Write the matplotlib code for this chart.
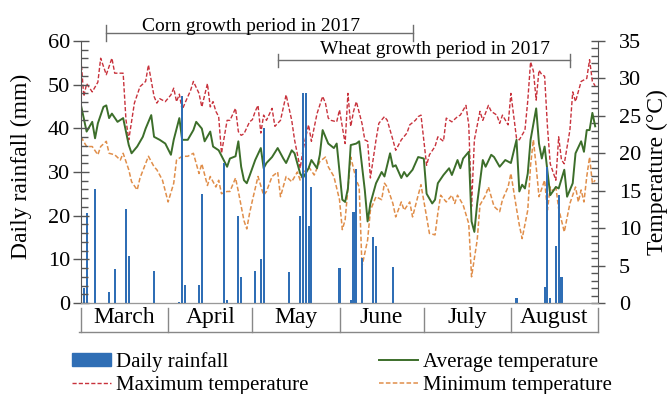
import matplotlib
matplotlib.use("Agg")
import matplotlib.pyplot as plt
from matplotlib.ticker import MultipleLocator
from matplotlib.patches import Patch
from matplotlib.lines import Line2D

# ---------- Data (day 0 = 1 March 2017) ----------
months = ["March", "April", "May", "June", "July", "August"]
month_starts = [0, 31, 61, 92, 122, 153, 184]

rain_days = [1, 2, 5, 10, 12, 16, 17, 26, 35, 36, 37, 42, 43, 51, 52, 56, 57,
             62, 64, 65, 74, 78, 79, 80, 81, 82, 92, 96, 97, 98, 100, 104, 105,
             111, 155, 165, 166, 167, 169, 170, 171]
rain_mm = [3.4, 20.5, 26.2, 2.5, 7.8, 21.5, 10.8, 7.3, 0.3, 47.5, 4.2, 4.1, 25.0,
           32.0, 0.8, 20.0, 6.0, 7.3, 10.1, 40.0, 7.0, 19.9, 48.2, 48.2, 17.6,
           26.6, 8.0, 0.6, 20.9, 30.6, 10.4, 15.2, 13.0, 8.2, 1.1, 3.7, 31.2,
           1.1, 13.1, 24.7, 6.0]

tmax_days = [0, 1, 2, 4, 6, 7, 9, 11, 12, 15, 16, 17, 19, 21, 23, 24, 26, 27, 28,
             30, 32, 33, 34, 35, 36, 37, 39, 40, 42, 43, 45, 46, 47, 48, 49, 50,
             52, 53, 55, 56, 57, 58, 60, 61, 62, 63, 64, 65, 66, 68, 69, 71, 73,
             75, 76, 78, 79, 80, 81, 82, 84, 86, 87, 88, 89, 91, 92, 94, 95, 96,
             97, 98, 100, 101, 102, 103, 105, 106, 108, 109, 111, 112, 114, 116,
             117, 119, 120, 121, 123, 124, 126, 127, 129, 130, 132, 134, 135,
             137, 138, 139, 140, 142, 143, 145, 146, 148, 149, 150, 152, 153,
             155, 156, 158, 159, 160, 161, 162, 163, 164, 165, 166, 167, 169,
             170, 171, 172, 174, 175, 176, 178, 180, 181, 182, 183]
tmax = [32.5, 27.6, 29.3, 28.2, 29.5, 32.7, 30.5, 32.7, 30.7, 30.7, 24.5, 21.8,
        26.7, 28.9, 29.6, 31.8, 27.6, 26.7, 27.3, 26.9, 27.8, 28.7, 26.9, 27.9,
        25.8, 26.7, 28.4, 29.6, 28.0, 26.2, 29.3, 26.2, 26.9, 25.6, 24.9, 20.0,
        24.4, 24.4, 26.0, 22.9, 22.4, 22.6, 24.2, 24.5, 25.6, 26.4, 22.7, 25.1,
        24.4, 26.0, 23.6, 24.4, 27.8, 24.4, 21.8, 18.0, 20.4, 22.2, 23.8, 21.6,
        25.3, 27.6, 26.7, 24.7, 24.4, 24.2, 25.8, 21.3, 28.0, 23.6, 25.6, 26.9,
        24.0, 21.8, 21.6, 16.7, 21.8, 24.0, 24.9, 24.4, 21.8, 20.4, 21.8, 22.7,
        23.8, 24.4, 24.9, 25.1, 18.4, 19.8, 20.9, 22.2, 21.6, 24.7, 24.2, 24.9,
        25.1, 26.4, 23.8, 12.9, 21.8, 25.6, 24.4, 26.4, 25.6, 25.1, 24.0, 25.1,
        23.8, 28.0, 22.0, 21.8, 23.1, 27.0, 32.2, 31.0, 27.1, 31.1, 30.5, 30.3,
        23.6, 18.6, 16.4, 22.2, 19.1, 18.6, 23.1, 28.2, 26.9, 29.6, 30.0, 32.5,
        29.6, 29.0]

tavg_days = [0, 2, 4, 5, 6, 8, 9, 10, 11, 13, 15, 17, 18, 20, 22, 23, 25, 26, 28,
             30, 32, 33, 35, 36, 38, 40, 41, 43, 44, 46, 47, 49, 52, 53, 55, 56,
             57, 58, 59, 60, 62, 64, 65, 66, 68, 70, 72, 73, 75, 76, 78, 79, 81,
             82, 84, 85, 86, 88, 90, 91, 93, 94, 95, 96, 98, 99, 101, 102, 103,
             105, 107, 108, 110, 111, 112, 114, 115, 116, 118, 120, 122, 123,
             125, 126, 127, 129, 131, 132, 134, 135, 136, 138, 139, 140, 141,
             143, 144, 146, 147, 149, 151, 153, 155, 156, 157, 158, 159, 160,
             162, 163, 164, 165, 167, 169, 170, 172, 173, 175, 176, 178, 179,
             180, 181, 182, 183]
tavg = [26.4, 22.9, 24.2, 22.0, 24.0, 26.2, 26.4, 24.7, 25.3, 24.2, 24.7, 21.1,
        20.0, 20.9, 22.2, 23.3, 25.1, 22.2, 21.8, 21.3, 19.8, 21.8, 24.7, 21.8,
        21.8, 23.1, 24.2, 23.3, 21.6, 22.9, 20.9, 20.4, 18.2, 19.3, 19.6, 21.6,
        18.2, 16.4, 16.0, 17.0, 19.1, 20.7, 18.0, 18.7, 19.5, 20.7, 19.3, 18.7,
        20.4, 20.0, 17.3, 16.7, 18.0, 19.1, 18.0, 19.8, 23.1, 21.3, 20.7, 21.3,
        13.8, 13.5, 15.3, 21.1, 21.3, 21.6, 15.1, 10.9, 13.3, 16.0, 17.5, 16.9,
        20.0, 18.2, 18.4, 16.7, 17.5, 16.9, 17.8, 19.5, 19.3, 14.6, 13.3, 13.8,
        16.0, 17.1, 18.0, 17.1, 19.1, 18.0, 19.3, 20.2, 10.9, 9.5, 13.3, 19.1,
        18.2, 19.8, 19.5, 18.2, 19.1, 18.7, 21.8, 14.9, 15.8, 15.3, 17.3, 21.8,
        26.0, 21.3, 19.3, 20.9, 14.4, 15.5, 15.3, 17.8, 14.2, 16.0, 20.0, 21.6,
        20.2, 23.1, 23.1, 25.4, 23.6]

tmin_days = [0, 2, 4, 6, 7, 9, 10, 12, 14, 15, 17, 18, 20, 21, 24, 26, 27, 29, 31,
             33, 34, 36, 38, 40, 42, 43, 45, 46, 48, 49, 50, 52, 53, 55, 56, 58,
             59, 60, 61, 62, 63, 65, 66, 68, 70, 71, 73, 75, 77, 78, 79, 81, 83,
             85, 87, 88, 90, 92, 93, 94, 96, 98, 99, 100, 102, 103, 105, 107,
             108, 109, 111, 112, 114, 115, 117, 118, 120, 121, 123, 124, 126,
             127, 128, 130, 132, 133, 134, 136, 138, 139, 141, 142, 144, 145,
             147, 149, 150, 152, 153, 155, 156, 157, 159, 160, 161, 162, 163,
             165, 166, 167, 168, 169, 170, 172, 174, 176, 177, 178, 179, 180,
             181, 182, 183]
tmin = [22.2, 20.9, 20.9, 19.8, 20.9, 21.6, 20.0, 19.8, 19.1, 20.0, 17.8, 16.2,
        15.1, 16.7, 19.6, 18.2, 17.8, 16.4, 13.5, 16.0, 19.1, 19.6, 19.6, 20.0,
        17.3, 18.6, 15.7, 16.9, 15.5, 16.4, 14.6, 14.9, 14.9, 16.7, 14.9, 11.0,
        9.9, 12.0, 13.7, 15.3, 16.9, 14.4, 14.9, 16.9, 17.5, 14.2, 16.9, 16.2,
        17.5, 16.4, 17.3, 18.2, 17.1, 18.9, 19.5, 18.2, 16.9, 13.8, 9.8, 11.1,
        19.5, 16.4, 15.5, 4.9, 8.4, 12.4, 14.2, 13.8, 16.0, 15.5, 13.3, 11.5,
        13.5, 12.4, 13.5, 11.5, 14.4, 15.8, 11.5, 9.3, 9.1, 12.0, 14.4, 13.5,
        14.4, 13.3, 14.4, 13.1, 10.6, 3.5, 8.4, 13.1, 14.4, 15.5, 12.9, 12.2,
        13.8, 15.5, 17.3, 12.6, 10.4, 8.6, 12.4, 18.4, 21.8, 18.2, 14.2, 16.4,
        12.4, 15.5, 14.9, 15.5, 12.6, 9.5, 13.3, 15.5, 13.5, 15.1, 13.5, 16.9,
        19.5, 16.0, 16.4]

# growth periods (start day, end day)
corn_period = (9, 118)
wheat_period = (70, 174)

# ---------- Style ----------
plt.rcParams["font.family"] = ["Liberation Serif", "DejaVu Serif"]
C_RAIN = "#2F6EB5"
C_MAX = "#C8323C"
C_AVG = "#3C6E2A"
C_MIN = "#E08E4A"
C_AXIS = "#555555"

fig = plt.figure(figsize=(6.7, 3.94), dpi=100)
ax = fig.add_axes([81 / 670, 1 - 303 / 394, 517 / 670, 262 / 394])
ax2 = ax.twinx()

# temperature lines on the right axis
ax2.plot(tmax_days, tmax, color=C_MAX, lw=1.0, ls=(0, (3, 1.5)))
ax2.plot(tmin_days, tmin, color=C_MIN, lw=1.1, ls=(0, (3, 1.5)))
ax2.plot(tavg_days, tavg, color=C_AVG, lw=1.4)

# rainfall bars on the left axis, drawn above the lines
ax.bar(rain_days, rain_mm, width=0.75, color=C_RAIN, align="center")
ax.set_zorder(ax2.get_zorder() + 1)
ax.patch.set_visible(False)

ax.set_xlim(0, 184)
ax.set_ylim(0, 60)
ax2.set_ylim(0, 35)
ax.set_xticks([])
ax2.set_xticks([])

ax.yaxis.set_major_locator(MultipleLocator(10))
ax.yaxis.set_minor_locator(MultipleLocator(2))
ax2.yaxis.set_major_locator(MultipleLocator(5))
ax2.yaxis.set_minor_locator(MultipleLocator(1))

for a in (ax, ax2):
    a.spines["top"].set_visible(False)
    for s in ("left", "right", "bottom"):
        a.spines[s].set_color(C_AXIS)
ax.spines["right"].set_visible(False)
ax2.spines["left"].set_visible(False)
ax.spines["bottom"].set_color("#999999")

ax.tick_params(axis="y", which="major", direction="inout", length=12, width=1,
               color=C_AXIS, labelsize=16, pad=2)
ax.tick_params(axis="y", which="minor", direction="in", length=5, width=1, color=C_AXIS)
ax2.tick_params(axis="y", which="major", direction="inout", length=10, width=1,
                color=C_AXIS, labelsize=16, pad=10)
ax2.tick_params(axis="y", which="minor", direction="in", length=5, width=1, color=C_AXIS)

ax.set_ylabel("Daily rainfall (mm)", fontsize=17)
ax.yaxis.set_label_coords(-0.095, 0.52)
ax2.set_ylabel("Temperature (\u00b0C)", fontsize=17)
ax2.yaxis.set_label_coords(1.095, 0.5)

# ---------- Month box under the x axis ----------
trans = ax.get_xaxis_transform()
for d in month_starts:
    ax.plot([d, d], [-0.019, -0.111], color="#888888", lw=1, transform=trans, clip_on=False)
ax.plot([-0.7, 184], [-0.111, -0.111], color="#888888", lw=1, transform=trans, clip_on=False)
for i, m in enumerate(months):
    mid = (month_starts[i] + month_starts[i + 1]) / 2
    ax.text(mid, -0.057, m, transform=trans, ha="center", va="center", fontsize=17)

# ---------- Growth period brackets ----------
def bracket(a, x0, x1, y, cap, label, tx, ty):
    a.plot([x0, x1], [y, y], color="#6E6E6E", lw=1, clip_on=False)
    a.plot([x0, x0], [y - cap, y + cap], color="#6E6E6E", lw=1, clip_on=False)
    a.plot([x1, x1], [y - cap, y + cap], color="#6E6E6E", lw=1, clip_on=False)
    a.text(tx, ty, label, ha="center", va="center", fontsize=14, clip_on=False)

bracket(ax, corn_period[0], corn_period[1], 61.8, 1.8,
        "Corn growth period in 2017", 60.6, 63.4)
bracket(ax, wheat_period[0], wheat_period[1], 55.6, 1.5,
        "Wheat growth period in 2017", 126, 58.0)

# ---------- Legend ----------
handles = [
    Patch(facecolor=C_RAIN, edgecolor=C_RAIN),
    Line2D([], [], color=C_MAX, lw=1.0, ls=(0, (3, 1.5))),
    Line2D([], [], color=C_AVG, lw=1.4),
    Line2D([], [], color=C_MIN, lw=1.1, ls=(0, (3, 1.5))),
]
labels = ["Daily rainfall", "Maximum temperature", "Average temperature", "Minimum temperature"]
fig.legend(handles, labels, ncol=2, loc="upper left",
           bbox_to_anchor=(72 / 670, 1 - 352 / 394), frameon=False,
           fontsize=15, handlelength=1.85, handleheight=0.6, handletextpad=0.25,
           columnspacing=3.4, labelspacing=0.18, borderpad=0, borderaxespad=0)

fig.savefig("out.png", dpi=100)
